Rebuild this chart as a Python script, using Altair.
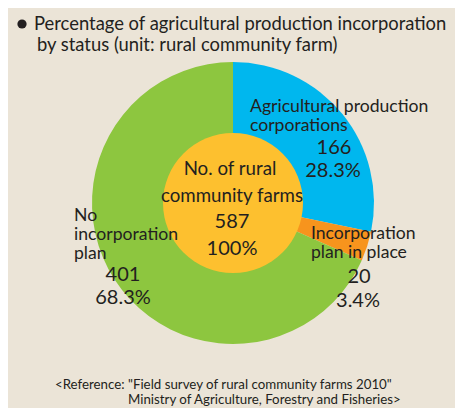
import altair as alt
import pandas as pd

# ---- data ----
categories = ["Agricultural production corporations", "Incorporation plan in place", "No incorporation plan"]
label_lines = [["Agricultural production", "corporations"], ["Incorporation", "plan in place"], ["No", "incorporation", "plan"]]
counts = [166, 20, 401]
colors = ["#00b7ee", "#f7941d", "#8dc63f"]
center_lines = ["No. of rural", "community farms"]
title_lines = ["Percentage of agricultural production incorporation", "by status (unit: rural community farm)"]
footer_lines = ['<Reference: "Field survey of rural community farms 2010"', "Ministry of Agriculture, Forestry and Fisheries>"]

total = sum(counts)
pcts = [f"{c / total * 100:.1f}%" for c in counts]

df = pd.DataFrame({"cat": categories, "value": counts, "order": [0, 1, 2]})

# ---- layout (pixels inside the 447x400 chart) ----
W, H = 447, 400
CX, CY = 225, 195
R_OUT, R_IN = 141, 70
FONT = "Lato"
TXT = "#231f20"
BG = "#ebe4d7"

rows = []
def add(text, x, y, size, align):
    rows.append({"t": text, "x": x, "y": y, "s": size, "a": align})

# title
add(title_lines[0], 26, 22, 18.4, "left")
add(title_lines[1], 29, 43, 18.4, "left")
# category labels
add(label_lines[0][0], 242, 104, 17.6, "left")
add(label_lines[0][1], 242, 123, 17.6, "left")
add(str(counts[0]), 326, 146, 20, "center")
add(pcts[0], 325, 169, 20, "center")
add(label_lines[1][0], 303, 231, 17.6, "left")
add(label_lines[1][1], 303, 250, 17.6, "left")
add(str(counts[1]), 351, 275, 20, "center")
add(pcts[1], 350, 299, 20, "center")
add(label_lines[2][0], 66, 213, 17.6, "left")
add(label_lines[2][1], 66, 232, 17.6, "left")
add(label_lines[2][2], 66, 251, 17.6, "left")
add(str(counts[2]), 115, 273, 20, "center")
add(pcts[2], 115, 296, 20, "center")
# centre
add(center_lines[0], 222, 167, 18.7, "center")
add(center_lines[1], 224, 194, 18.7, "center")
add(str(total), 224, 220, 20, "center")
add("100%", 224, 247, 20, "center")
# footer
add(footer_lines[0], 47, 381, 13.3, "left")
add(footer_lines[1], 120, 396, 13.3, "left")

tdf = pd.DataFrame(rows)
bullet = pd.DataFrame({"x": [14], "y": [16]})

xs = alt.Scale(domain=[0, W], range=[0, W])
ys = alt.Scale(domain=[0, H], range=[0, H])

pie = alt.Chart(df).mark_arc(outerRadius=R_OUT, innerRadius=0).encode(
    theta=alt.Theta("value:Q", stack=True),
    order=alt.Order("order:Q"),
    color=alt.Color("cat:N", scale=alt.Scale(domain=categories, range=colors), legend=None),
    x=alt.value(CX),
    y=alt.value(CY),
)

hub = alt.Chart(pd.DataFrame({"v": [total]})).mark_arc(outerRadius=R_IN, color="#fdc02f").encode(
    theta=alt.Theta("v:Q"),
    x=alt.value(CX),
    y=alt.value(CY),
)

dot = alt.Chart(bullet).mark_circle(size=85, color=TXT, opacity=1).encode(
    x=alt.X("x:Q", scale=xs, axis=None),
    y=alt.Y("y:Q", scale=ys, axis=None),
)

def text_layer(align):
    return alt.Chart(tdf[tdf["a"] == align]).mark_text(
        align=align, baseline="alphabetic", font=FONT, color=TXT
    ).encode(
        text="t:N",
        x=alt.X("x:Q", scale=xs, axis=None),
        y=alt.Y("y:Q", scale=ys, axis=None),
        size=alt.Size("s:Q", scale=None, legend=None),
    )

chart = alt.layer(pie, hub, dot, text_layer("left"), text_layer("center")).properties(
    width=W, height=H, padding=0, background=BG,
    autosize=alt.AutoSizeParams(type="fit", contains="padding"),
).configure_view(stroke=None)

chart.save("out.html", embed_options={"renderer": "svg", "actions": False})
